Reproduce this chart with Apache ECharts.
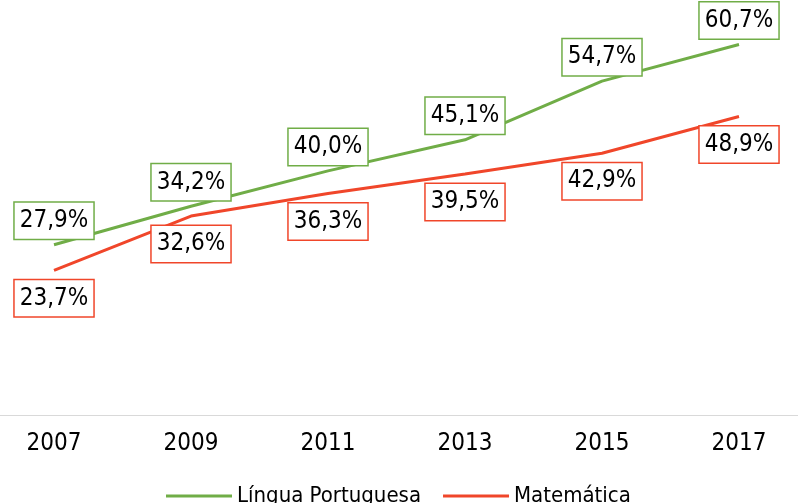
<!DOCTYPE html>
<html>
<head>
<meta charset="utf-8">
<script src="https://cdn.jsdelivr.net/npm/echarts@6/dist/echarts.min.js"></script>
<style>
  html, body { margin: 0; padding: 0; background: #fff; }
  #chart { width: 798px; height: 503px; }
</style>
</head>
<body>
<div id="chart"></div>
<script>
// dados do gráfico
const anos = ['2007', '2009', '2011', '2013', '2015', '2017'];
const linguaPortuguesa = [27.9, 34.2, 40.0, 45.1, 54.7, 60.7];
const matematica = [23.7, 32.6, 36.3, 39.5, 42.9, 48.9];

const FONTE = "'Liberation Sans Narrow', 'Arial Narrow', 'DejaVu Sans Condensed', sans-serif";
const VERDE = '#70ad47';
const VERMELHO = '#f0462a';

function rotulo(cor, pos, dist) {
    return {
        show: true,
        position: pos,
        distance: dist,
        formatter: p => p.value.toFixed(1).replace('.', ',') + '%',
        fontFamily: FONTE,
        fontSize: 24,
        lineHeight: 28,
        color: '#000',
        backgroundColor: '#fff',
        borderColor: cor,
        borderWidth: 1.5,
        padding: [4, 5]
    };
}

const chart = echarts.init(document.getElementById('chart'));
chart.setOption({
    animation: false,
    grid: [
        { left: 54, right: 59, top: 0, bottom: 88 },
        // só para a linha do eixo ocupar toda a largura
        { left: 0, right: 0, top: 0, bottom: 88 }
    ],
    xAxis: [
        {
            type: 'category',
            data: anos,
            boundaryGap: false,
            axisLine: { show: false },
            axisTick: { show: false },
            axisLabel: { fontFamily: FONTE, fontSize: 24, color: '#000', margin: 17 }
        },
        {
            gridIndex: 1,
            type: 'category',
            data: anos,
            axisLine: { lineStyle: { color: '#d9d9d9', width: 1 } },
            axisTick: { show: false },
            axisLabel: { show: false }
        }
    ],
    yAxis: [
        { type: 'value', min: 0, max: 68, show: false, splitLine: { show: false } },
        { gridIndex: 1, type: 'value', min: 0, max: 68, show: false, splitLine: { show: false } }
    ],
    legend: {
        left: 161,
        top: 480,
        icon: 'rect',
        itemWidth: 66,
        itemHeight: 3,
        itemGap: 22,
        textStyle: { fontFamily: FONTE, fontSize: 22, color: '#000' },
        data: ['Língua Portuguesa', 'Matemática']
    },
    series: [
        {
            name: 'Língua Portuguesa',
            type: 'line',
            data: linguaPortuguesa,
            symbol: 'circle',
            symbolSize: 0,
            lineStyle: { color: VERDE, width: 3 },
            itemStyle: { color: VERDE },
            label: rotulo(VERDE, 'top', 6)
        },
        {
            name: 'Matemática',
            type: 'line',
            data: matematica,
            symbol: 'circle',
            symbolSize: 0,
            lineStyle: { color: VERMELHO, width: 3 },
            itemStyle: { color: VERMELHO },
            label: rotulo(VERMELHO, 'bottom', 10)
        }
    ]
});

window.addEventListener('resize', () => chart.resize());
</script>
</body>
</html>
